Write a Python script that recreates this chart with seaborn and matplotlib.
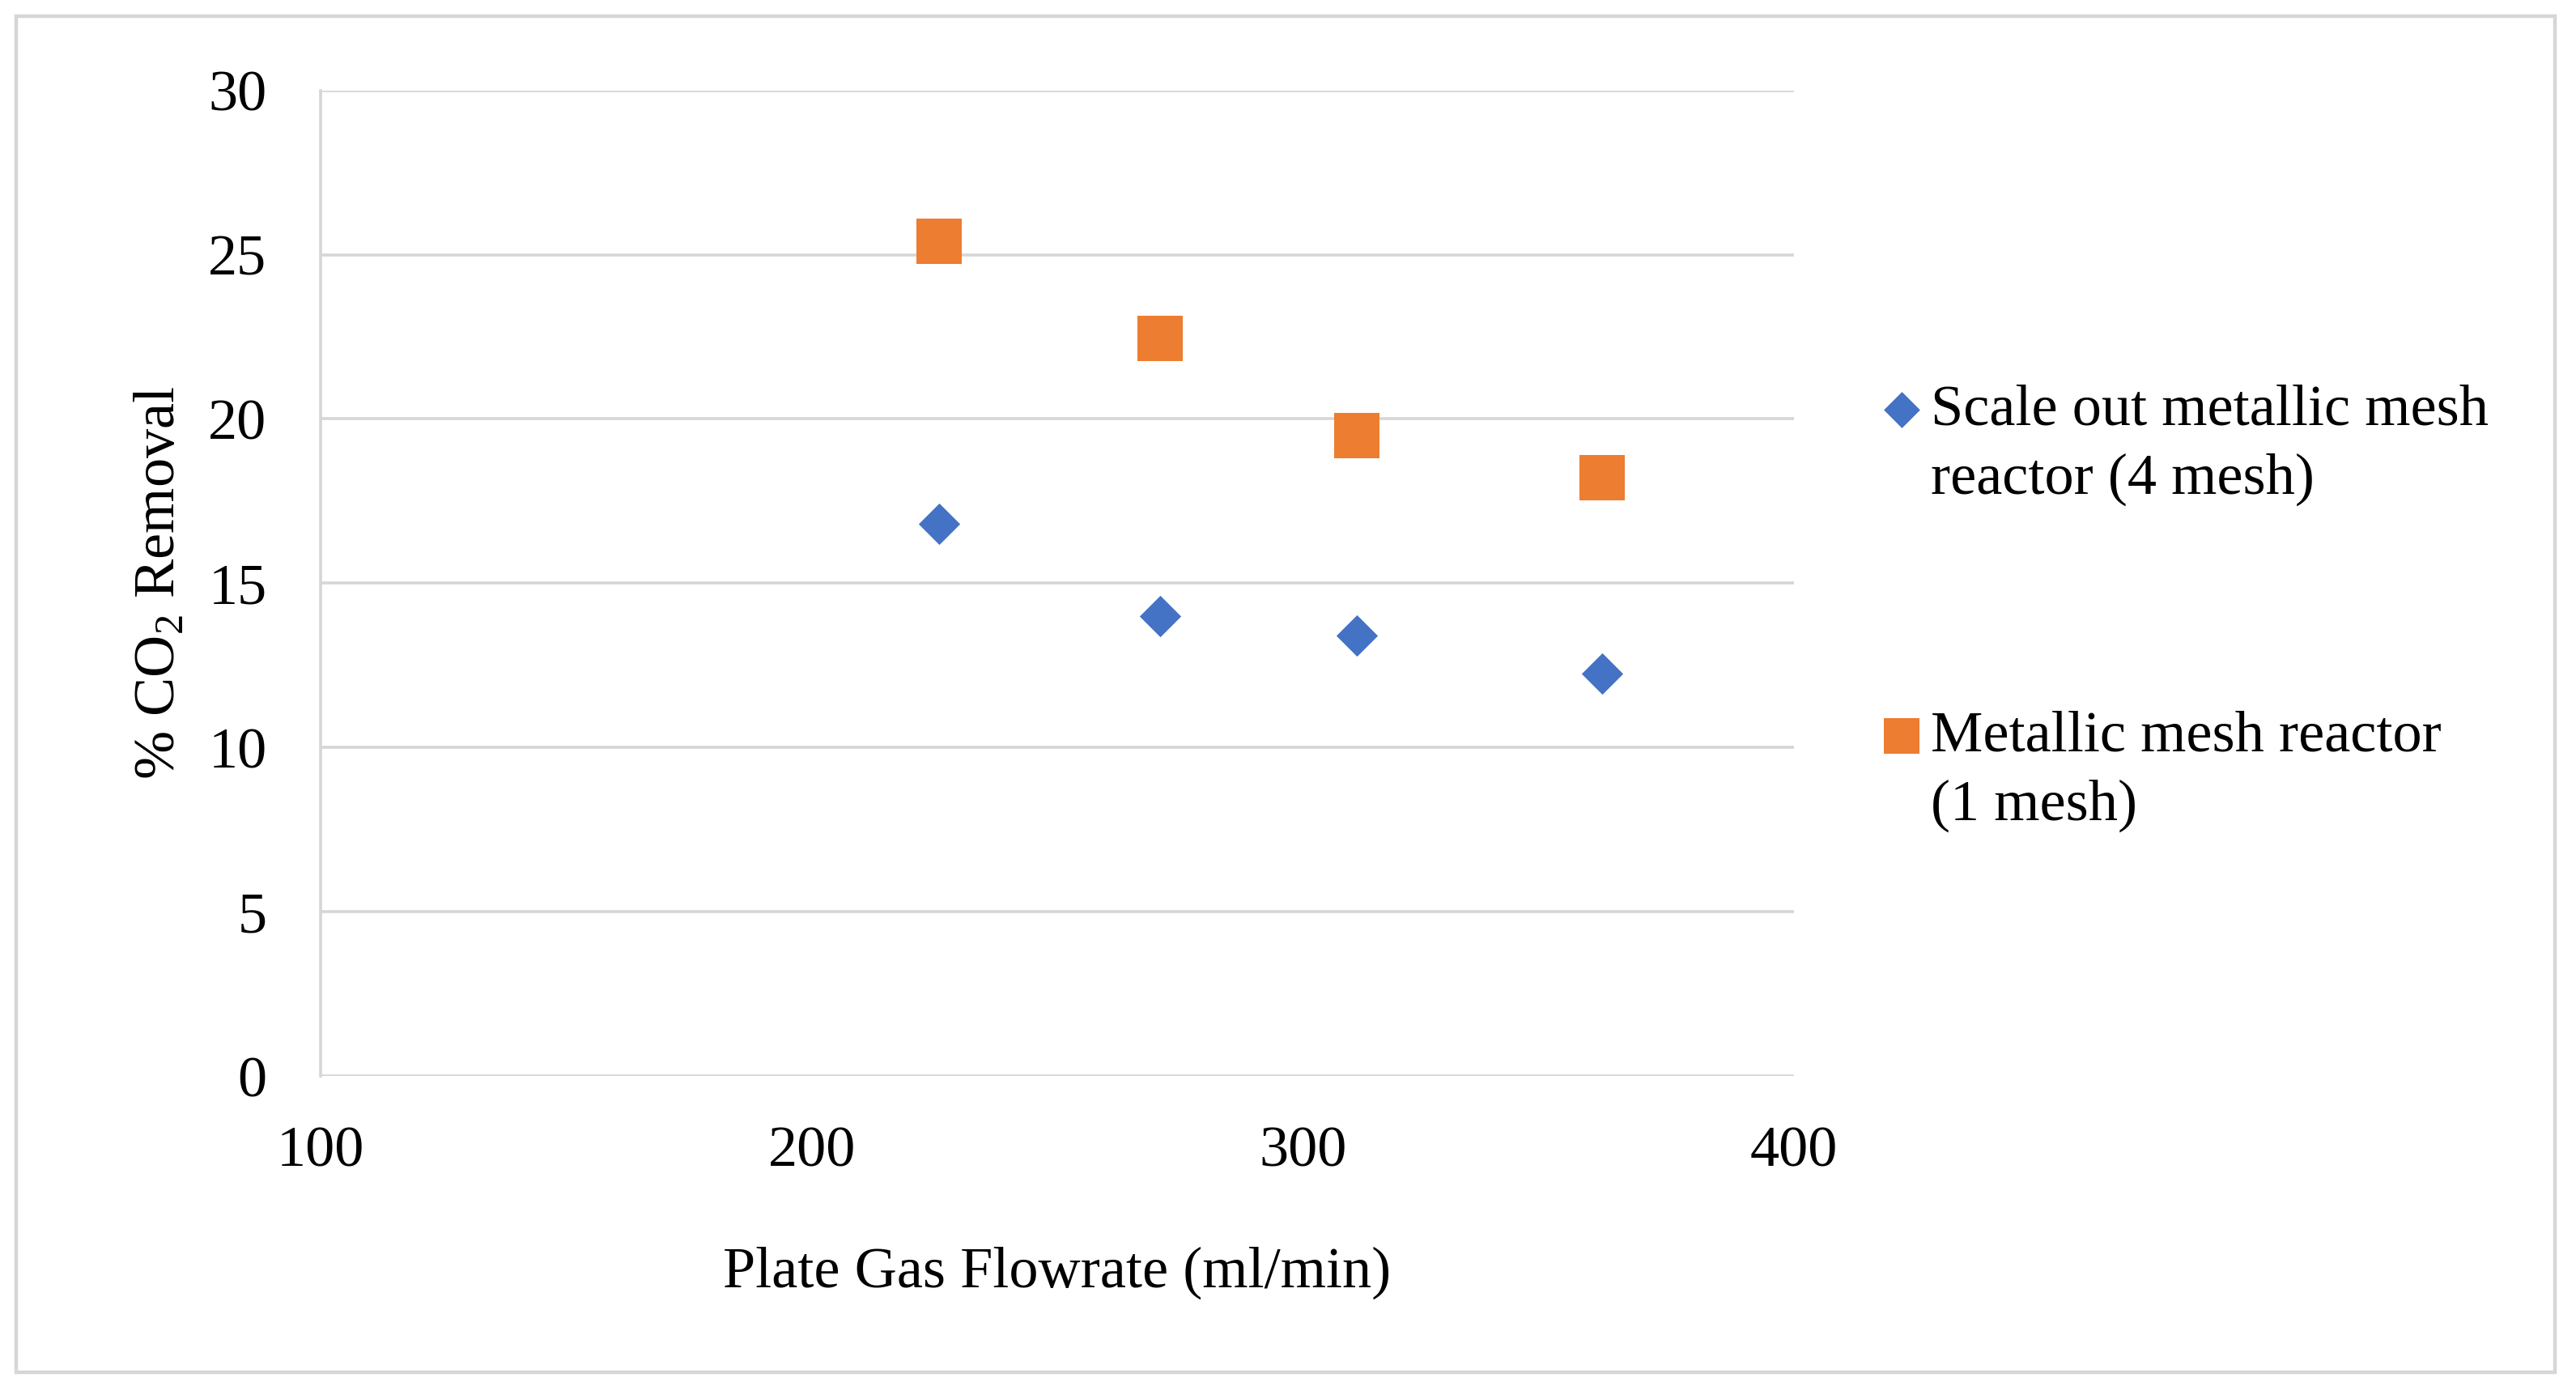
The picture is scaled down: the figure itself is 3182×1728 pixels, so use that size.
import matplotlib
matplotlib.use("Agg")
import matplotlib.pyplot as plt
import seaborn as sns
import pandas as pd
from matplotlib.collections import PathCollection
from matplotlib.legend_handler import HandlerPathCollection
from matplotlib.patches import Rectangle

# ---- data ----
flow_rates = [226, 271, 311, 361]
scale_out_4mesh = [16.8, 14.0, 13.4, 12.25]
single_1mesh = [25.4, 22.45, 19.5, 18.2]
series_names = ["Scale out metallic mesh\nreactor (4 mesh)", "Metallic mesh reactor\n(1 mesh)"]
x_ticks = [100, 200, 300, 400]
y_ticks = [0, 5, 10, 15, 20, 25, 30]

df = pd.DataFrame({
    "flow": flow_rates * 2,
    "removal": scale_out_4mesh + single_1mesh,
    "series": [series_names[0]] * len(flow_rates) + [series_names[1]] * len(flow_rates),
})

sns.set_theme(style="white")
plt.rcParams["font.family"] = ["Liberation Serif", "DejaVu Serif"]
plt.rcParams["mathtext.fontset"] = "custom"
plt.rcParams["mathtext.rm"] = "Liberation Serif"
plt.rcParams["text.color"] = "black"
plt.rcParams["axes.labelcolor"] = "black"
plt.rcParams["xtick.color"] = "black"
plt.rcParams["ytick.color"] = "black"

BLUE = "#4472C4"
ORANGE = "#ED7D31"
GRID = "#d6d6d6"
FS = 26

fig = plt.figure(figsize=(15.91, 8.64), dpi=200)
ax = fig.add_axes([0.1245, 0.2309, 0.6963 - 0.1245, 0.9354 - 0.2309])

sub_blue = df[df["series"] == series_names[0]]
sub_orange = df[df["series"] == series_names[1]]
sns.scatterplot(data=sub_orange, x="flow", y="removal", marker="s", s=420,
                color=ORANGE, linewidth=0, ax=ax, legend=False, zorder=3)
sns.scatterplot(data=sub_blue, x="flow", y="removal", marker="D", s=170,
                color=BLUE, linewidth=0, ax=ax, legend=False, zorder=3)

ax.set_xlim(100, 400)
ax.set_ylim(0, 30)
ax.set_xticks(x_ticks)
ax.set_yticks(y_ticks)
ax.tick_params(axis="both", length=0, labelsize=FS, colors="black")
ax.tick_params(axis="y", pad=24)
ax.tick_params(axis="x", pad=22)
ax.yaxis.grid(True, color=GRID, linewidth=1.3)
ax.xaxis.grid(False)
ax.set_axisbelow(True)
for side in ["top", "right", "bottom"]:
    ax.spines[side].set_visible(False)
ax.spines["left"].set_color(GRID)
ax.spines["left"].set_linewidth(1.3)

ax.set_xlabel("Plate Gas Flowrate (ml/min)", fontsize=FS, va="center")
ax.xaxis.set_label_coords(0.5, -0.2)
ax.set_ylabel("% CO$_\\mathrm{2}$ Removal", fontsize=FS, va="center")
ax.yaxis.set_label_coords(-0.109, 0.5)

# legend handles (empty collections, only used for the legend keys)
h_blue = ax.scatter([], [], marker="D", s=130, color=BLUE, linewidths=0)
h_orange = ax.scatter([], [], marker="s", s=250, color=ORANGE, linewidths=0)
leg = fig.legend([h_blue, h_orange], series_names, loc="upper left",
                 bbox_to_anchor=(0.719, 0.7465), frameon=False, fontsize=FS,
                 handlelength=0.7, handletextpad=0.15, labelspacing=3.5, borderpad=0,
                 handler_map={PathCollection: HandlerPathCollection(yoffsets=[1.36])})
for t in leg.get_texts():
    t.set_linespacing(1.4)

fig.patches.append(Rectangle((20 / 3182, 1 - 1695 / 1728), (3156 - 20) / 3182, (1695 - 20) / 1728,
                             transform=fig.transFigure, fill=False, edgecolor=GRID, linewidth=1.6))

fig.savefig("out.png", dpi=200, facecolor="white")
